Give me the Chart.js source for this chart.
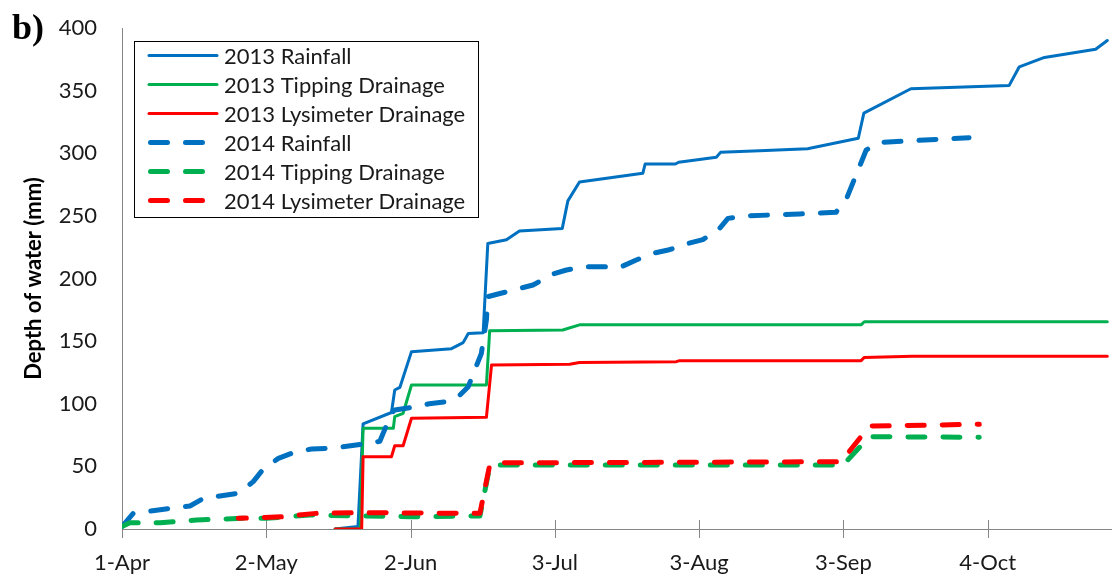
<!DOCTYPE html>
<html>
<head>
<meta charset="utf-8">
<script src="https://cdn.jsdelivr.net/npm/chart.js@4.4.1/dist/chart.umd.min.js"></script>
<style>
  html, body { margin: 0; padding: 0; background: #fff; }
  #wrap { width: 1112px; height: 582px; }
</style>
</head>
<body>
<div id="wrap"><canvas id="chart" width="1112" height="582"></canvas></div>
<script>
// days counted from 1-Apr
const xTickDays = [0, 31, 62, 93, 124, 155, 186];
const xTickLabels = ["1-Apr", "2-May", "2-Jun", "3-Jul", "3-Aug", "3-Sep", "4-Oct"];

const seriesNames = [
  "2013 Rainfall",
  "2013 Tipping Drainage",
  "2013 Lysimeter Drainage",
  "2014 Rainfall",
  "2014 Tipping Drainage",
  "2014 Lysimeter Drainage",
];

// [day, mm]
const rain2013 = [
  [45.8, 0], [50.7, 2], [51.8, 84], [57.9, 93], [58.6, 111], [59.7, 113], [62.2, 141.6],
  [70.8, 144], [73.3, 148.8], [74.4, 156], [77.6, 156.7], [78.6, 228], [82.6, 231],
  [85.4, 238], [94.6, 240], [95.8, 262], [98.3, 277], [111.9, 284], [112.4, 291.4],
  [118.9, 291.4], [119.6, 292.8], [127.7, 296.8], [128.6, 300.7], [137, 302], [147.3, 303.6],
  [158.2, 312], [159.4, 332], [169.5, 351.5], [190.6, 354], [192.8, 369], [198.2, 376.5],
  [209.2, 383], [211.7, 390],
];
const tip2013 = [
  [45.8, 0], [51.2, 0], [51.8, 80.4], [58.3, 80.4], [58.6, 89.7], [60.4, 92.4], [62.2, 115],
  [78.3, 115], [79, 158.3], [94.7, 158.9], [98.3, 163], [158.8, 163], [159.5, 165.5],
  [211.7, 165.5],
];
const lys2013 = [
  [45.8, 0], [51.5, 0], [51.8, 57.7], [57.9, 57.7], [58.6, 66.5], [60.4, 66.5], [62.2, 88.4],
  [78.3, 89.2], [79.4, 131], [96.2, 131.5], [98.3, 133], [119.1, 133.6], [119.8, 134.4],
  [158.8, 134.4], [159.5, 137], [169.9, 138], [211.7, 138],
];
const rain2014 = [
  [0, 2], [2.4, 12.5], [10.3, 16.5], [14.6, 18.4], [17.5, 24.5], [21.4, 26.6], [25, 28.5],
  [28.2, 37.8], [30.3, 47.6], [33.6, 56.4], [36.8, 61], [40.7, 63.9], [44.7, 64.4],
  [52.2, 68], [55.4, 70], [57.9, 92.4], [58.6, 95], [62.2, 97], [66, 100], [69.5, 101.6],
  [72.6, 107], [74.4, 113.6], [75.8, 127], [77.2, 140], [78.3, 167], [78.6, 185.5],
  [81.2, 188], [88.3, 194.8], [92.6, 203.6], [95.5, 206.8], [99.8, 209.4], [107.3, 209.4],
  [110.5, 214.8], [114, 220], [117.6, 223], [121.6, 228], [124.8, 231], [128.4, 240],
  [130.2, 248], [134.1, 250], [145.6, 251.5], [153.4, 252.8], [155.7, 264], [159.9, 302.6],
  [163.1, 308.7], [182, 312.4],
];
const tip2014 = [
  [0, 2], [1.7, 5], [8.2, 5], [16, 7.2], [26, 8.5], [31, 8.5], [40.4, 11.2], [51.1, 10.4],
  [62, 9.8], [76.9, 10.4], [79, 49.7], [81, 51], [154.9, 51], [160.6, 73.7], [184.2, 73.2],
];
const lys2014 = [
  [25, 8.5], [34.6, 9.8], [41.8, 12.5], [51.1, 13],
  [76.9, 12.5], [79, 51], [81, 52.8], [154.5, 53.7], [160.6, 82.2], [184.2, 83.6],
];

const BLUE = "#0070c0";
const GREEN = "#00b050";
const RED = "#ff0000";
const AXIS = "#868686";
const TEXT = "#1a1a1a";
const FONT = "Lato, 'Open Sans', sans-serif";

function series(i, pts, color, dashed, dashOffset) {
  return {
    label: seriesNames[i],
    data: pts.map(([x, y]) => ({ x, y })),
    borderColor: color,
    backgroundColor: color,
    borderWidth: dashed ? 5 : 3,
    borderDash: dashed ? [17, 18] : [],
    borderDashOffset: dashOffset || 0,
    borderCapStyle: "round",
    borderJoinStyle: "round",
    pointRadius: 0,
    tension: 0,
    fill: false,
    order: 5 - i, // later series on top, like the original
  };
}

const crossTicks = {
  id: "crossTicks",
  beforeDatasetsDraw(chart) {
    const { ctx, chartArea } = chart;
    const x = chart.scales.x;
    ctx.save();
    ctx.strokeStyle = AXIS;
    ctx.lineWidth = 1;
    x.ticks.forEach((t) => {
      const px = Math.round(x.getPixelForValue(t.value)) + 0.5;
      ctx.beginPath();
      ctx.moveTo(px, chartArea.bottom - 9);
      ctx.lineTo(px, chartArea.bottom + 9);
      ctx.stroke();
    });
    ctx.restore();
  },
};

const legendBox = {
  id: "legendBox",
  afterDraw(chart) {
    const ctx = chart.ctx;
    ctx.save();
    ctx.fillStyle = "#fff";
    ctx.fillRect(134, 41, 345, 177);
    ctx.strokeStyle = "#000";
    ctx.lineWidth = 1;
    ctx.strokeRect(134.5, 41.5, 344, 176);
    chart.data.datasets.forEach((ds, i) => {
      const y = 55.5 + i * 29;
      ctx.beginPath();
      ctx.setLineDash(ds.borderDash);
      ctx.lineWidth = ds.borderWidth;
      ctx.lineCap = "round";
      ctx.strokeStyle = ds.borderColor;
      if (ds.borderDash.length) {
        ctx.moveTo(150.5, y);
        ctx.lineTo(203, y);
      } else {
        ctx.moveTo(149, y);
        ctx.lineTo(217, y);
      }
      ctx.stroke();
      ctx.setLineDash([]);
      ctx.fillStyle = TEXT;
      ctx.font = `22px ${FONT}`;
      ctx.textBaseline = "middle";
      ctx.fillText(ds.label, 224, y + 1);
    });
    // panel letter
    ctx.fillStyle = "#000";
    ctx.font = "bold 36px 'Liberation Serif', serif";
    ctx.textBaseline = "alphabetic";
    ctx.fillText("b)", 12, 39);
    ctx.restore();
  },
};

new Chart(document.getElementById("chart"), {
  type: "line",
  data: {
    datasets: [
      series(0, rain2013, BLUE, false),
      series(1, tip2013, GREEN, false),
      series(2, lys2013, RED, false),
      series(3, rain2014, BLUE, true),
      series(4, tip2014, GREEN, true),
      series(5, lys2014, RED, true, 9),
    ],
  },
  options: {
    responsive: false,
    devicePixelRatio: 1,
    animation: false,
    layout: { padding: { top: 28, right: 1, left: 0, bottom: 0 } },
    plugins: { legend: { display: false }, tooltip: { enabled: false } },
    scales: {
      x: {
        type: "linear",
        min: 0,
        max: 212.5,
        afterBuildTicks: (scale) => {
          scale.ticks = xTickDays.map((v) => ({ value: v }));
        },
        afterFit: (scale) => {
          scale.height = 53;
          scale.paddingLeft = 0;
          scale.paddingRight = 0;
        },
        ticks: {
          callback: (v) => xTickLabels[xTickDays.indexOf(v)],
          color: TEXT,
          font: { family: FONT, size: 22 },
          padding: 21,
          maxRotation: 0,
          autoSkip: false,
        },
        grid: { display: false, drawTicks: false },
        border: { color: AXIS, width: 1 },
      },
      y: {
        min: 0,
        max: 400,
        afterFit: (scale) => {
          scale.width = 122;
          scale.paddingTop = 0;
          scale.paddingBottom = 0;
        },
        ticks: {
          stepSize: 50,
          color: TEXT,
          font: { family: FONT, size: 22 },
          padding: 25,
        },
        grid: { display: false, drawTicks: false },
        border: { color: AXIS, width: 1 },
        title: {
          display: true,
          text: "Depth of water (mm)",
          color: "#000",
          font: { family: FONT, size: 22, weight: "bold" },
          padding: { top: 21, bottom: 0 },
        },
      },
    },
  },
  plugins: [crossTicks, legendBox],
});
</script>
</body>
</html>
